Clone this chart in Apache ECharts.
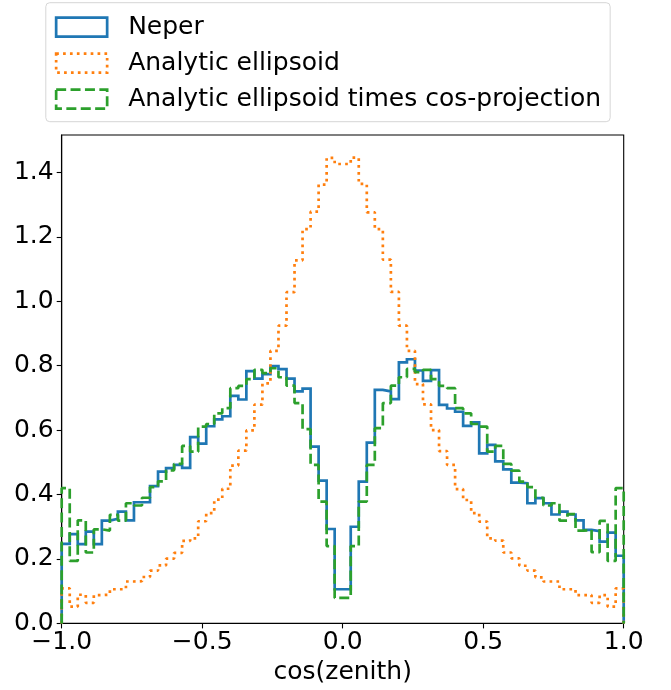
<!DOCTYPE html>
<html>
<head>
<meta charset="utf-8">
<script src="https://cdn.jsdelivr.net/npm/echarts@6/dist/echarts.min.js"></script>
<style>
  html, body { margin: 0; padding: 0; background: #fff; }
  #chart { width: 671px; height: 690px; }
</style>
</head>
<body>
<div id="chart"></div>
<script>
// 70 equal bins over cos(zenith) in [-1, 1]
const neper = [
  0.247, 0.277, 0.246, 0.285, 0.246, 0.319, 0.325, 0.347, 0.320, 0.376,
  0.376, 0.426, 0.471, 0.482, 0.492, 0.483, 0.578, 0.558, 0.612, 0.633,
  0.643, 0.706, 0.695, 0.783, 0.760, 0.774, 0.799, 0.789, 0.760, 0.720,
  0.729, 0.549, 0.443, 0.293, 0.106, 0.106, 0.300, 0.440, 0.561, 0.725,
  0.720, 0.696, 0.810, 0.820, 0.785, 0.753, 0.786, 0.678, 0.667, 0.657,
  0.613, 0.624, 0.528, 0.554, 0.503, 0.478, 0.437, 0.435, 0.373, 0.389,
  0.373, 0.338, 0.347, 0.338, 0.320, 0.290, 0.286, 0.254, 0.282, 0.210
]
const ellipsoid = [
  0.109, 0.052, 0.089, 0.064, 0.088, 0.089, 0.106, 0.106, 0.130, 0.131,
  0.144, 0.164, 0.180, 0.201, 0.219, 0.256, 0.264, 0.317, 0.342, 0.384,
  0.418, 0.490, 0.536, 0.599, 0.679, 0.745, 0.846, 0.924, 1.028, 1.127,
  1.224, 1.278, 1.362, 1.445, 1.426, 1.426, 1.446, 1.364, 1.276, 1.224,
  1.129, 1.029, 0.924, 0.846, 0.743, 0.680, 0.600, 0.535, 0.492, 0.417,
  0.383, 0.342, 0.316, 0.264, 0.257, 0.220, 0.202, 0.179, 0.164, 0.143,
  0.130, 0.130, 0.106, 0.106, 0.088, 0.088, 0.064, 0.088, 0.052, 0.109
]
const ellipsoidCos = [
  0.420, 0.194, 0.320, 0.220, 0.292, 0.288, 0.337, 0.319, 0.373, 0.366,
  0.390, 0.423, 0.441, 0.475, 0.495, 0.551, 0.533, 0.611, 0.619, 0.652,
  0.668, 0.730, 0.737, 0.758, 0.787, 0.777, 0.792, 0.764, 0.738, 0.684,
  0.603, 0.492, 0.378, 0.240, 0.079, 0.079, 0.240, 0.378, 0.492, 0.606,
  0.684, 0.738, 0.764, 0.790, 0.780, 0.787, 0.758, 0.737, 0.730, 0.668,
  0.652, 0.619, 0.611, 0.533, 0.551, 0.495, 0.474, 0.440, 0.423, 0.390,
  0.366, 0.373, 0.319, 0.339, 0.288, 0.290, 0.221, 0.318, 0.194, 0.420
]
const yTicks = [0, 0.2, 0.4, 0.6, 0.8, 1.0, 1.2, 1.4]

const font = 'DejaVu Sans'
const fs = 25
const chart = echarts.init(document.getElementById('chart'))

// histtype='step' outline: up from 0 at -1, across each bin, down to 0 at 1
function stepPoints(values) {
  const w = 2 / values.length
  const pts = [[-1, 0]]
  values.forEach((v, i) => {
    pts.push([-1 + i * w, v], [-1 + (i + 1) * w, v])
  })
  pts.push([1, 0])
  return pts
}

const lw = 2.7
const minus = (v) => v.toFixed(1).replace('-', '\u2212')

chart.setOption({
  animation: false,
  textStyle: { fontFamily: font },
  grid: {
    left: 61.7, right: 47.3, top: 135, bottom: 66.6,
    containLabel: false, outerBoundsMode: 'none',
    show: true, borderColor: '#000', borderWidth: 1.1
  },
  legend: {
    left: 45.8, top: 2.7,
    orient: 'vertical',
    padding: [12, 9, 10, 9],
    itemWidth: 51, itemHeight: 19, itemGap: 11,
    borderColor: '#d6d6d6', borderWidth: 1, borderRadius: 4,
    backgroundColor: 'rgba(255,255,255,0.8)',
    textStyle: { fontFamily: font, fontSize: fs, color: '#000', padding: [0, 0, 0, 16], lineHeight: 24 },
    data: [
      { name: 'Neper', icon: 'rect',
        itemStyle: { color: 'transparent', borderColor: '#1f77b4', borderWidth: lw } },
      { name: 'Analytic ellipsoid', icon: 'rect',
        itemStyle: { color: 'transparent', borderColor: '#ff7f0e', borderWidth: lw, borderType: [2.7, 4.2] } },
      { name: 'Analytic ellipsoid times cos-projection', icon: 'rect',
        itemStyle: { color: 'transparent', borderColor: '#2ca02c', borderWidth: lw, borderType: [10, 4.4] } }
    ]
  },
  xAxis: {
    type: 'value', min: -1, max: 1, interval: 0.5,
    name: 'cos(zenith)', nameLocation: 'middle', nameGap: 32,
    nameTextStyle: { fontFamily: font, fontSize: fs, color: '#000' },
    splitLine: { show: false },
    axisLine: { show: true, onZero: false, lineStyle: { color: '#000', width: 1.1 } },
    axisTick: { show: true, length: 5, lineStyle: { color: '#000', width: 1.1 } },
    axisLabel: { fontFamily: font, fontSize: fs, color: '#000', margin: 7, formatter: minus }
  },
  yAxis: {
    type: 'value', min: 0, max: 1.516,
    splitLine: { show: false },
    axisLine: { show: true, onZero: false, lineStyle: { color: '#000', width: 1.1 } },
    axisTick: { show: true, length: 5, customValues: yTicks, lineStyle: { color: '#000', width: 1.1 } },
    axisLabel: { fontFamily: font, fontSize: fs, color: '#000', margin: 8, customValues: yTicks,
      formatter: (v) => v.toFixed(1) }
  },
  series: [
    { name: 'Neper', type: 'line', data: stepPoints(neper), symbol: 'none', z: 2,
      itemStyle: { color: '#1f77b4' },
      lineStyle: { color: '#1f77b4', width: lw, join: 'miter' } },
    { name: 'Analytic ellipsoid', type: 'line', data: stepPoints(ellipsoid), symbol: 'none', z: 3,
      itemStyle: { color: '#ff7f0e' },
      lineStyle: { color: '#ff7f0e', width: lw, type: [2.7, 4.2], cap: 'butt' } },
    { name: 'Analytic ellipsoid times cos-projection', type: 'line', data: stepPoints(ellipsoidCos), symbol: 'none', z: 4,
      itemStyle: { color: '#2ca02c' },
      lineStyle: { color: '#2ca02c', width: lw, type: [10, 4.4], cap: 'butt' } }
  ]
})
</script>
</body>
</html>
